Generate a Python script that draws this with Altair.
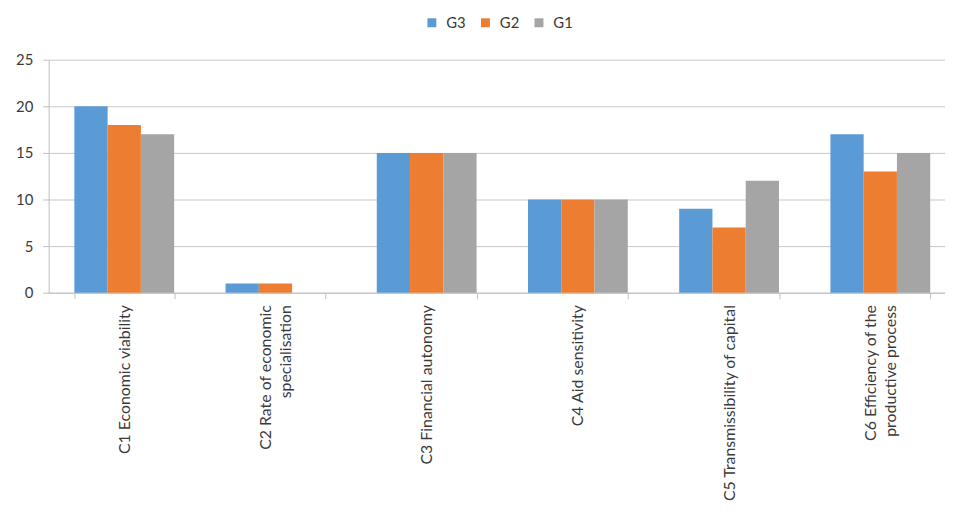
import altair as alt
import pandas as pd

categories = [
    "C1 Economic viability",
    "C2 Rate of economic|specialisation",
    "C3 Financial autonomy",
    "C4 Aid sensitivity",
    "C5 Transmissibility of capital",
    "C6 Efficiency of the|productive process",
]
groups = ["G3", "G2", "G1"]
colors = ["#5B9BD5", "#ED7D31", "#A5A5A5"]
g3 = [20, 1, 15, 10, 9, 17]
g2 = [18, 1, 15, 10, 7, 13]
g1 = [17, 0, 15, 10, 12, 15]

rows = []
for name, vals in zip(groups, [g3, g2, g1]):
    for c, v in zip(categories, vals):
        rows.append({"category": c, "group": name, "value": v})
df = pd.DataFrame(rows)

FONT = "Lato"
TXT = "#3a3a3a"
ZW = "\u200b"

label_expr = (
    "indexof(datum.label, '|') >= 0 ? "
    f"[split(datum.label, '|')[0], '{ZW}', split(datum.label, '|')[1]] : "
    f"['{ZW}', datum.label]"
)

chart = alt.Chart(df).mark_bar().encode(
    x=alt.X(
        "category:N",
        sort=categories,
        title=None,
        scale=alt.Scale(range=[0, 915], paddingInner=0.34, paddingOuter=0.17),
        axis=alt.Axis(
            labelAngle=270,
            labelAlign="right",
            labelBaseline="middle",
            labelExpr=label_expr,
            labelLineHeight=10,
            labelOffset=-10,
            labelPadding=6,
            labelFont=FONT,
            labelFontSize=16,
            labelColor=TXT,
            labelLimit=300,
            tickBand="extent",
            tickSize=6,
            tickColor="#bfbfbf",
            domainColor="#bfbfbf",
            grid=False,
        ),
    ),
    xOffset=alt.XOffset("group:N", sort=groups),
    y=alt.Y(
        "value:Q",
        title=None,
        scale=alt.Scale(domain=[0, 25], nice=False),
        axis=alt.Axis(
            values=[0, 5, 10, 15, 20, 25],
            labelFont=FONT,
            labelFontSize=15,
            labelColor=TXT,
            labelPadding=10,
            tickSize=6,
            tickColor="#bfbfbf",
            domainColor="#bfbfbf",
            gridColor="#c8c8c8",
            gridWidth=1,
        ),
    ),
    color=alt.Color(
        "group:N",
        sort=groups,
        scale=alt.Scale(domain=groups, range=colors),
        legend=alt.Legend(
            title=None,
            orient="none",
            legendX=379,
            legendY=-45,
            direction="horizontal",
            symbolType="square",
            symbolSize=81,
            symbolStrokeWidth=0,
            labelFont=FONT,
            labelFontSize=15,
            labelColor=TXT,
            labelOffset=7,
            columnPadding=12,
        ),
    ),
).properties(
    width=901,
    height=235,
    autosize=alt.AutoSizeParams(type="none"),
    padding={"left": 41, "top": 50, "right": 3, "bottom": 215},
).configure_view(stroke=None)

chart.save("out.html", embed_options={"renderer": "svg", "actions": False})
